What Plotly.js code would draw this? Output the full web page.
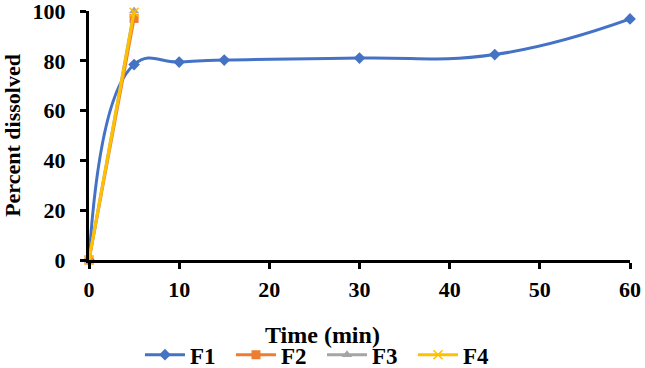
<!DOCTYPE html>
<html>
<head>
<meta charset="utf-8">
<script src="https://cdn.plot.ly/plotly-3.0.1.min.js"></script>
<style>html,body{margin:0;padding:0;background:#fff;}#chart{width:645px;height:368px;}</style>
</head>
<body>
<div id="chart"></div>
<script>
const timeF1 = [0, 5, 10, 15, 30, 45, 60];
const valF1 = [0, 78.5, 79.5, 80.3, 81.1, 82.5, 96.8];
const timeF2 = [0, 5];
const valF2 = [0, 97];
const timeF3 = [0, 5];
const valF3 = [0, 100];
const timeF4 = [0, 5];
const valF4 = [0, 99.5];
const seriesNames = ['F1', 'F2', 'F3', 'F4'];
const xTicks = [0, 10, 20, 30, 40, 50, 60];
const yTicks = [0, 20, 40, 60, 80, 100];
const xTitle = 'Time (min)';
const yTitle = 'Percent dissolved';

const FONT = '"Liberation Serif", serif';
const colors = ['#4472C4', '#ED7D31', '#A5A5A5', '#FFC000'];
const symbols = ['diamond', 'square', 'triangle-up', 'x-thin-open'];
const xs = [timeF1, timeF2, timeF3, timeF4];
const ys = [valF1, valF2, valF3, valF4];
const fnt = {family: FONT, size: 22, color: '#000', weight: 'bold'};
const titleFnt = {family: FONT, size: 24, color: '#000', weight: 'bold'};
const legFnt = {family: FONT, size: 23, color: '#000', weight: 'bold'};

const traces = seriesNames.map((n, i) => ({
  x: xs[i], y: ys[i], name: n, type: 'scatter', mode: 'lines+markers',
  line: {color: colors[i], width: 3, shape: 'spline', smoothing: 1.3},
  marker: {symbol: symbols[i], size: 9, color: colors[i],
           line: {color: colors[i], width: i === 3 ? 1.5 : 0}},
  cliponaxis: false
}));

const layout = {
  width: 645, height: 368,
  margin: {l: 89, r: 15, t: 11, b: 108},
  paper_bgcolor: '#fff', plot_bgcolor: '#fff',
  font: fnt,
  showlegend: true,
  xaxis: {
    range: [0, 60], tickvals: xTicks, ticktext: xTicks.map(String), automargin: false,
    showgrid: false, zeroline: false, showline: true, linecolor: '#000', linewidth: 3,
    ticks: 'outside', ticklen: 6, tickwidth: 3, tickcolor: '#000',
    tickfont: fnt, ticklabelstandoff: 2, ticklabeloverflow: 'allow'
  },
  yaxis: {
    range: [0, 100], tickvals: yTicks, ticktext: yTicks.map(String), automargin: false,
    showgrid: false, zeroline: false, showline: true, linecolor: '#000', linewidth: 3,
    ticks: 'outside', ticklen: 6, tickwidth: 3, tickcolor: '#000',
    tickfont: fnt, ticklabelstandoff: 10, ticklabeloverflow: 'allow',
    title: {text: yTitle, font: fnt, standoff: 18}
  },
  annotations: [{
    text: xTitle, xref: 'paper', yref: 'paper', x: 0.4307, y: -0.3,
    xanchor: 'center', yanchor: 'middle', showarrow: false, font: titleFnt
  }],
  legend: {
    orientation: 'h', xref: 'container', x: 0.217, xanchor: 'left',
    yref: 'container', y: 0.036, yanchor: 'middle',
    font: legFnt, bgcolor: 'rgba(0,0,0,0)', tracegroupgap: 0,
    itemwidth: 40, entrywidth: 36, entrywidthmode: 'pixels'
  }
};

Plotly.newPlot('chart', traces, layout, {displayModeBar: false, staticPlot: true});
</script>
</body>
</html>
